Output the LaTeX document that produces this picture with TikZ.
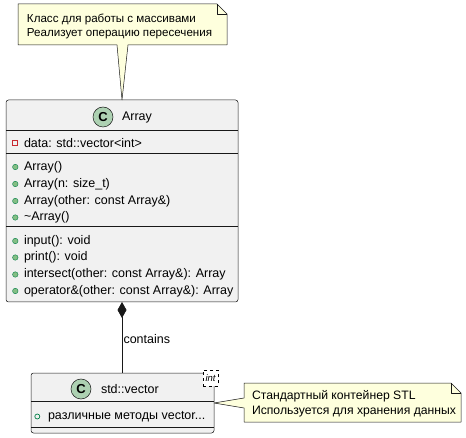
\documentclass[tikz,border=0pt]{standalone}
\usepackage{fontspec}
\setmainfont{Liberation Sans}
\usetikzlibrary{arrows.meta,calc}
\definecolor{classbg}{HTML}{F1F1F1}
\definecolor{lineclr}{HTML}{181818}
\definecolor{notebg}{HTML}{FEFFDD}
\definecolor{circbg}{HTML}{ADD1B2}
\definecolor{privred}{HTML}{C82930}
\definecolor{pubgreen}{HTML}{038048}
\definecolor{pubfill}{HTML}{84BE84}
\begin{document}
\begin{tikzpicture}[x=1pt,y=-1pt,
  every node/.style={font=\fontsize{12.5}{15}\selectfont, inner sep=0pt, outer sep=0pt},
  classbox/.style={draw=lineclr, fill=classbg, line width=0.5pt, rounded corners=2.5pt},
  sepline/.style={draw=lineclr, line width=0.8pt},
  member/.style={anchor=west, text=black},
  notebox/.style={draw=lineclr, fill=notebg, line width=0.5pt, line join=round},
  notetext/.style={anchor=west, text=black},
  ccircle/.style={circle, draw=lineclr, fill=circbg, line width=0.5pt, minimum size=20pt,
    font=\fontsize{13}{13}\selectfont\bfseries},
  pubmeth/.style={circle, draw=pubgreen, fill=pubfill, line width=0.4pt, minimum size=5.5pt},
  pubfield/.style={circle, draw=pubgreen, fill=none, line width=0.7pt, minimum size=5pt},
  privfield/.style={rectangle, draw=privred, fill=none, line width=0.7pt, minimum size=5.5pt},
  conn/.style={draw=lineclr, line width=0.8pt}
]
\useasboundingbox (0,0) rectangle (466,438);

% ---------- Array class ----------
\node[classbox, minimum width=232pt, minimum height=202pt] (array) at (122,201) {};
\node[ccircle] (arrayc) at (103,117) {C};
\node[member] (arrayname) at (122,117) {Array};
\draw[sepline] (6,130) -- (238,130);
\node[privfield] (iconData) at (15,143) {};
\node[member] (mData) at (24,143) {data: std::vector<int>};
\draw[sepline] (6,153) -- (238,153);
\node[pubmeth] (i1) at (15.3,167) {};
\node[member] (m1) at (24,167) {Array()};
\node[pubmeth] (i2) at (15.3,184) {};
\node[member] (m2) at (24,184) {Array(n: size\_t)};
\node[pubmeth] (i3) at (15.3,201) {};
\node[member] (m3) at (24,201) {Array(other: const Array\&)};
\node[pubmeth] (i4) at (15.3,217.5) {};
\node[member] (m4) at (24,217.5) {\textasciitilde Array()};
\draw[sepline] (6,226.5) -- (238,226.5);
\node[pubmeth] (i5) at (15.3,241) {};
\node[member] (m5) at (24,241) {input(): void};
\node[pubmeth] (i6) at (15.3,257.5) {};
\node[member] (m6) at (24,257.5) {print(): void};
\node[pubmeth] (i7) at (15.3,274.5) {};
\node[member] (m7) at (24,274.5) {intersect(other: const Array\&): Array};
\node[pubmeth] (i8) at (15.3,291) {};
\node[member] (m8) at (24,291) {operator\&(other: const Array\&): Array};

% ---------- std::vector class ----------
\node[classbox, minimum width=183pt, minimum height=60pt] (vector) at (122.5,403) {};
\node[ccircle] (vectorc) at (81,389) {C};
\node[member] (vectorname) at (101,389) {std::vector};
\node[draw=black, dashed, fill=white, line width=0.5pt, minimum width=15pt, minimum height=16pt,
  font=\fontsize{9.5}{10}\selectfont\itshape] (tmpl) at (210.6,378.4) {int};
\draw[sepline] (31,401.5) -- (214,401.5);
\node[pubfield] (iv) at (37.3,416.5) {};
\node[member] (mv) at (48,416.5) {различные методы vector...};
\draw[sepline] (31,427) -- (214,427);

% ---------- composition ----------
\coordinate (compTop) at (122,302);
\coordinate (compBot) at (122,373);
\draw[conn, {Diamond[length=16pt,width=9pt,fill=lineclr]}-] (array.south -| compTop) -- (vector.north -| compBot);
\node[anchor=west] (lblContains) at (123.5,339) {contains};

% ---------- note 1 ----------
\draw[notebox] (18,4) -- (217,4) -- (227,14) -- (227,45) -- (128,45)
  -- (array.north) -- (117,45) -- (18,45) -- cycle;
\draw[notebox, fill=none] (217,4) -- (217,14) -- (227,14);
\node[notetext, font=\fontsize{11.6}{14}\selectfont] (note1a) at (27,19) {Класс для работы с массивами};
\node[notetext, font=\fontsize{11.6}{14}\selectfont] (note1b) at (27,34) {Реализует операцию пересечения};

% ---------- note 2 ----------
\coordinate (tailApex) at (214,403);
\draw[notebox] (244,383) -- (451,383) -- (461,393) -- (461,422) -- (244,422)
  -- (244,408) -- (vector.east |- tailApex) -- (244,398) -- cycle;
\draw[notebox, fill=none] (451,383) -- (451,393) -- (461,393);
\node[notetext, font=\fontsize{12.2}{14}\selectfont] (note2a) at (252,396) {Стандартный контейнер STL};
\node[notetext, font=\fontsize{12.2}{14}\selectfont] (note2b) at (252,412) {Используется для хранения данных};
\end{tikzpicture}
\end{document}
